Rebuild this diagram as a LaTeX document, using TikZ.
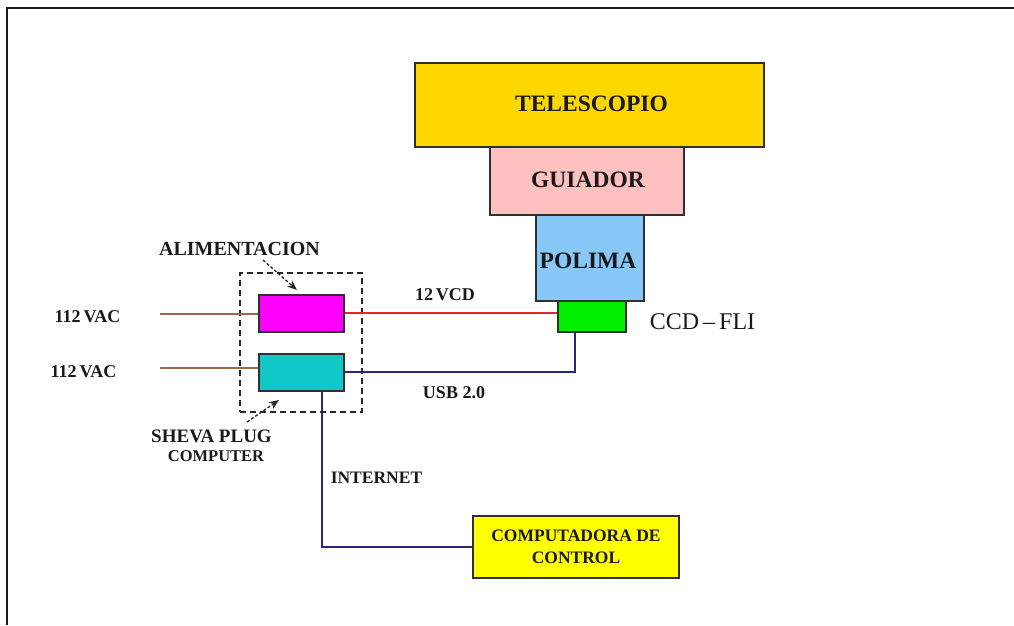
\documentclass[tikz,border=0pt]{standalone}
\usepackage{fontspec}
\setmainfont{Liberation Serif}
\usetikzlibrary{arrows.meta}

\definecolor{telecol}{HTML}{FFD700}
\definecolor{guiacol}{HTML}{FFC0C0}
\definecolor{policol}{HTML}{87C8F8}
\definecolor{ccdcol}{HTML}{00F000}
\definecolor{alimcol}{HTML}{FF00FF}
\definecolor{shevacol}{HTML}{10C8C8}
\definecolor{pccol}{HTML}{FFFF00}
\definecolor{boxline}{HTML}{303030}
\definecolor{acline}{HTML}{A06848}
\definecolor{dcline}{HTML}{E02828}
\definecolor{dataline}{HTML}{282878}

\tikzset{
  block/.style={draw=boxline, line width=1.4pt, inner sep=0pt, anchor=center},
  bigtxt/.style={font=\bfseries\fontsize{23.5}{26}\selectfont, text=black!90},
  lbl/.style={font=\bfseries\fontsize{18}{20}\selectfont, text=black!90, inner sep=0pt},
  ac/.style={draw=acline, line width=1.2pt},
  dc/.style={draw=dcline, line width=1.2pt},
  data/.style={draw=dataline, line width=1.3pt},
  pointer/.style={draw=black!85, line width=1.3pt, dash pattern=on 3pt off 2pt,
    -{Stealth[length=10pt,width=8pt]}},
}

\begin{document}
\begin{tikzpicture}[x=1pt, y=-1pt]
  \useasboundingbox (0,0) rectangle (1014,625);
  % page frame
  \draw[line width=2pt, black!90] (1014,8) -- (7,8) -- (7,625);

  % optical train
  \node[block, fill=telecol, minimum width=349pt, minimum height=84pt] (tele) at (589.5,105) {};
  \node[bigtxt] at (591.5,104) {TELESCOPIO};
  \node[block, fill=guiacol, minimum width=194pt, minimum height=68pt] (guia) at (587,181) {};
  \node[bigtxt] at (588,180) {GUIADOR};
  \node[block, fill=policol, minimum width=108pt, minimum height=86pt] (poli) at (590,258) {};
  \node[bigtxt] at (588,261) {POLIMA};
  \node[block, fill=ccdcol, minimum width=68pt, minimum height=31pt] (ccd) at (592,316.5) {};
  \node[font=\fontsize{24}{26}\selectfont, text=black!90] (ccdlbl) at (702.5,322) {CCD\,–\,FLI};

  % power supply and plug computer
  \node[draw=black!85, line width=1.2pt, dash pattern=on 6pt off 4pt,
        minimum width=122pt, minimum height=139pt, inner sep=0pt] (group) at (301,342.5) {};
  \node[block, fill=alimcol, minimum width=85pt, minimum height=37pt] (alim) at (301.5,313.5) {};
  \node[block, fill=shevacol, minimum width=85pt, minimum height=37pt] (sheva) at (301.5,372.5) {};

  % control computer
  \node[block, fill=pccol, minimum width=206pt, minimum height=62pt,
        align=center, font=\bfseries\fontsize{17.5}{22}\selectfont, text=black!90] (pc) at (576,547)
        {COMPUTADORA DE\\CONTROL};

  % labels
  \node[lbl] (vac1) at (87.5,317) {112\,VAC};
  \node[lbl] (vac2) at (83.5,372) {112\,VAC};
  \node[lbl, font=\bfseries\fontsize{20}{22}\selectfont] (alimlbl) at (239.5,249) {ALIMENTACION};
  \node[lbl] (vcd) at (445,295) {12\,VCD};
  \node[lbl] (usb) at (454,393) {USB 2.0};
  \node[lbl, font=\bfseries\fontsize{19}{21}\selectfont] (shevalbl) at (211.5,436.5) {SHEVA PLUG};
  \node[lbl, font=\bfseries\fontsize{16.5}{18}\selectfont] (complbl) at (216,456) {COMPUTER};
  \node[lbl, font=\bfseries\fontsize{17.5}{20}\selectfont] (netlbl) at (376.5,478) {INTERNET};

  % cable end points
  \coordinate (ac1) at (160,314);
  \coordinate (ac2) at (160,368);
  \coordinate (dcy) at (0,313);
  \coordinate (usbup) at (575,372);
  \coordinate (netdrop) at (322,547);

  % cables
  \draw[ac] (ac1) -- (ac1 -| alim.west);
  \draw[ac] (ac2) -- (ac2 -| sheva.west);
  \draw[dc] (alim.east |- dcy) -- (ccd.west |- dcy);
  \draw[data] (sheva.east |- usbup) -- (usbup) -- (usbup |- ccd.south);
  \draw[data] (netdrop |- sheva.south) -- (netdrop) -- (pc.west);

  % pointers
  \coordinate (p1) at (263,260);
  \coordinate (p2) at (297,290);
  \coordinate (p3) at (247,422);
  \coordinate (p4) at (279,400);
  \draw[pointer] (p1) -- (p2);
  \draw[pointer] (p3) -- (p4);
\end{tikzpicture}
\end{document}
